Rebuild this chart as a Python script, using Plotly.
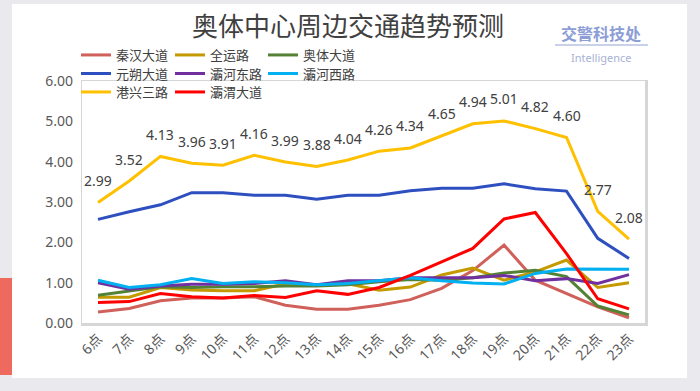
import plotly.graph_objects as go

hours = ["6点", "7点", "8点", "9点", "10点", "11点", "12点", "13点", "14点",
         "15点", "16点", "17点", "18点", "19点", "20点", "21点", "22点", "23点"]

qinhan = [0.27, 0.36, 0.55, 0.62, 0.62, 0.65, 0.44, 0.34, 0.34, 0.44, 0.58, 0.86, 1.30, 1.93, 1.06, 0.73, 0.40, 0.13]
quanyun = [0.64, 0.64, 0.88, 0.82, 0.80, 0.80, 0.97, 0.93, 0.97, 0.81, 0.89, 1.19, 1.36, 1.06, 1.27, 1.56, 0.88, 1.00]
aoti = [0.69, 0.80, 0.90, 0.88, 0.90, 0.90, 0.92, 0.92, 0.95, 1.02, 1.08, 1.06, 1.12, 1.24, 1.31, 1.15, 0.42, 0.20]
yuanshuo = [2.57, 2.76, 2.93, 3.23, 3.23, 3.17, 3.17, 3.07, 3.17, 3.17, 3.28, 3.34, 3.34, 3.45, 3.33, 3.27, 2.10, 1.60]
bahedong = [1.00, 0.84, 0.92, 0.96, 0.96, 0.98, 1.05, 0.95, 1.05, 1.05, 1.12, 1.12, 1.12, 1.18, 1.05, 1.10, 0.98, 1.20]
bahexi = [1.06, 0.88, 0.95, 1.10, 0.98, 1.02, 1.00, 0.95, 0.98, 1.05, 1.12, 1.05, 0.99, 0.97, 1.23, 1.34, 1.33, 1.33]
gangxing = [2.99, 3.52, 4.13, 3.96, 3.91, 4.16, 3.99, 3.88, 4.04, 4.26, 4.34, 4.65, 4.94, 5.01, 4.82, 4.60, 2.77, 2.08]
bawei = [0.51, 0.53, 0.73, 0.65, 0.62, 0.68, 0.63, 0.80, 0.71, 0.88, 1.18, 1.52, 1.85, 2.58, 2.74, 1.72, 0.60, 0.35]

series_names = ["秦汉大道", "全运路", "奥体大道", "元朔大道", "灞河东路", "灞河西路", "港兴三路", "灞渭大道"]
series_values = [qinhan, quanyun, aoti, yuanshuo, bahedong, bahexi, gangxing, bawei]
series_colors = ["#d0605a", "#c49a00", "#548235", "#2e4fc0", "#7030a0", "#00b0f0", "#ffc000", "#ff0000"]

W, H = 700, 391
L, R, T, B = 82, 55, 81, 68
PW, PH = W - L - R, H - T - B

def px(x):
    return (x - L) / PW

def py(y):
    return (H - B - y) / PH

FONT = "Noto Sans, Noto Sans CJK SC, sans-serif"
CJK = "Noto Sans CJK SC, Noto Sans, sans-serif"

# legend grid: 3 columns
leg_cols = [76, 170, 263]
leg_row0 = 55
leg_dy = 18.5

fig = go.Figure()
layout_legends = {}
for i, (name, vals, color) in enumerate(zip(series_names, series_values, series_colors)):
    key = "legend" if i == 0 else f"legend{i + 1}"
    fig.add_trace(go.Scatter(
        x=hours, y=vals, name=name, mode="lines",
        line=dict(color=color, width=3), legend=key,
    ))
    col, row = i % 3, i // 3
    layout_legends[key] = dict(
        x=px(leg_cols[col]), xanchor="left",
        y=py(leg_row0 + row * leg_dy), yanchor="middle",
        bgcolor="rgba(0,0,0,0)", borderwidth=0,
        font=dict(family=CJK, size=13, color="#404040"), itemwidth=30,
    )

# data labels for 港兴三路
for h, v in zip(hours, gangxing):
    fig.add_annotation(x=h, y=v, text=f"{v:.2f}", showarrow=False,
                       yshift=22, font=dict(family=FONT, size=14, color="#404040"))

shapes = [
    dict(type="rect", xref="paper", yref="paper", x0=px(12), x1=px(687), y0=py(378), y1=py(4),
         fillcolor="white", line=dict(width=0), layer="below"),
    dict(type="rect", xref="paper", yref="paper", x0=px(0), x1=px(12), y0=py(375), y1=py(278),
         fillcolor="#ef6a5e", line=dict(width=0), layer="below"),
    dict(type="rect", xref="paper", yref="paper", x0=px(L - 1), x1=px(L + PW + 3), y0=py(H - B + 3), y1=py(T - 1),
         fillcolor="#d6d6d6", line=dict(width=0), layer="below"),
    dict(type="rect", xref="paper", yref="paper", x0=0, x1=1, y0=0, y1=1,
         fillcolor="white", line=dict(width=0), layer="below"),
    dict(type="line", xref="paper", yref="paper", x0=px(555), x1=px(648), y0=py(45), y1=py(45),
         line=dict(color="#c9d0ea", width=2)),
]

fig.add_annotation(xref="paper", yref="paper", x=px(601), y=py(33), xanchor="center", yanchor="middle",
                   text="<b>交警科技处</b>", showarrow=False,
                   font=dict(family=CJK, size=16, color="#8d9ed6"))
fig.add_annotation(xref="paper", yref="paper", x=px(601), y=py(57), xanchor="center", yanchor="middle",
                   text="Intelligence", showarrow=False,
                   font=dict(family=FONT, size=11, color="#a8b2d4"))

fig.update_layout(
    width=W, height=H,
    margin=dict(l=L, r=R, t=T, b=B),
    paper_bgcolor="#e9e9ee",
    plot_bgcolor="white",
    title=dict(text="奥体中心周边交通趋势预测", xref="container", x=348 / W, xanchor="center",
               yref="container", y=1 - 27 / H, yanchor="middle",
               font=dict(family=CJK, size=26, color="#404040")),
    shapes=shapes,
    showlegend=True,
    xaxis=dict(showgrid=False, zeroline=False, showline=False, tickangle=-45,
               tickfont=dict(family=FONT, size=14, color="#595959"), ticklabelstandoff=4),
    yaxis=dict(range=[0, 6], dtick=1, tickformat=".2f", showgrid=False, zeroline=False,
               showline=False, tickfont=dict(family=FONT, size=14, color="#595959"),
               ticklabelstandoff=8),
    **layout_legends,
)

fig.write_html("out.html", config={"displayModeBar": False},
               post_script="document.body.style.margin='0';")
